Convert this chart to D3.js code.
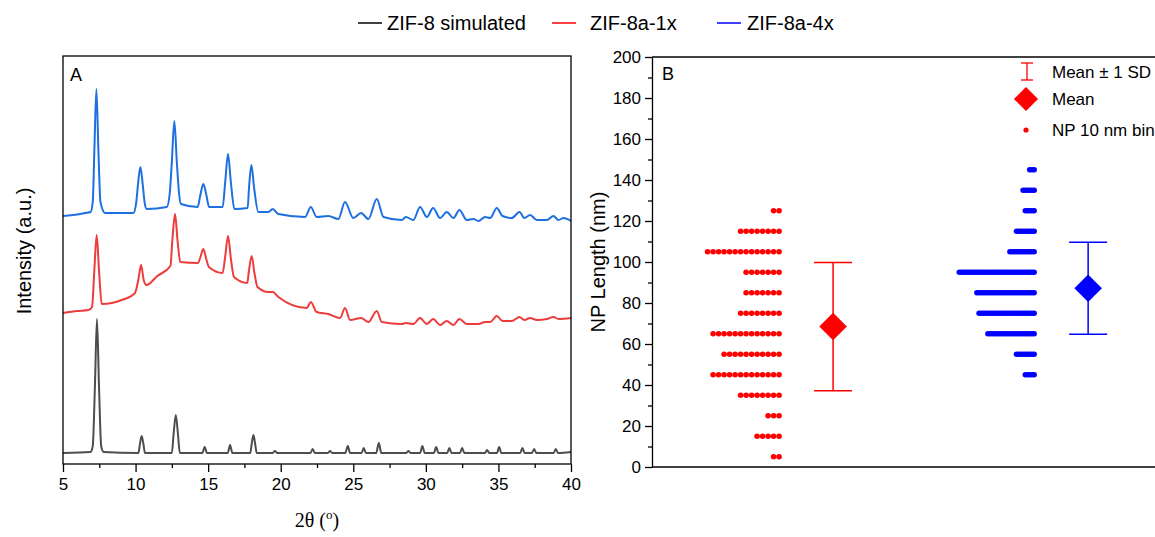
<!DOCTYPE html>
<html>
<head>
<meta charset="utf-8">
<script src="https://cdn.jsdelivr.net/npm/d3@7"></script>
<style>
  body { margin: 0; background: #fff; }
  text { font-family: "Liberation Sans", Arial, sans-serif; fill: #000; }
</style>
</head>
<body>
<div class="graphContainer"></div>
<script>
const w = 1155;
const h = 537;

// XRD patterns, [2theta, intensity a.u.] (curves already stacked)
const simPattern = [[5.0,11],[6.9,12],[7.05,18],[7.2,78],[7.34,145],[7.48,78],[7.63,18],[7.8,12],
  [10.2,11],[10.3,20],[10.42,28],[10.54,20],[10.65,11],
  [12.5,11],[12.62,30],[12.77,49],[12.92,30],[13.05,11],
  [14.6,11],[14.76,17],[14.92,11],[16.35,11],[16.51,19],[16.67,11],
  [17.9,11],[18.0,20],[18.12,29],[18.24,20],[18.35,11],
  [19.45,11],[19.6,13],[19.75,11],[22.05,11],[22.2,15],[22.35,11],
  [23.25,11],[23.4,13],[23.55,11],[24.45,11],[24.62,18],[24.78,11],
  [25.57,11],[25.72,16],[25.87,11],[26.58,11],[26.76,21],[26.93,11],
  [28.65,11],[28.8,13],[28.95,11],[29.6,11],[29.76,18],[29.92,11],
  [30.55,11],[30.71,17],[30.87,11],[31.47,11],[31.62,16],[31.77,11],
  [32.35,11],[32.5,16],[32.65,11],[34.07,11],[34.22,14],[34.37,11],
  [34.9,11],[35.05,17],[35.2,11],[36.5,11],[36.65,16],[36.8,11],
  [37.31,11],[37.46,15],[37.61,11],[38.8,11],[38.95,15],[39.1,11],[40,12]];

const pattern1x = [[5.0,151],[6.0,153],[6.75,154],[7.0,157],[7.16,194],[7.32,229],[7.48,194],[7.67,160],
  [9.05,164],[9.96,171],[10.2,185],[10.38,199],[10.56,184],[10.75,179],
  [11.5,188],[12.4,198],[12.54,225],[12.72,250],[12.9,222],[13.08,202],
  [14.3,201],[14.47,207],[14.67,215],[14.87,205],[15.05,197],
  [16.0,191],[16.17,207],[16.37,228],[16.57,205],[16.78,187],
  [17.7,181],[17.8,192],[18.0,208],[18.2,190],[18.4,177],
  [19.15,172],[19.45,172],[19.84,167],[21.8,156],[22.07,162],[22.48,152],[23.28,150],
  [24.09,146],[24.43,156],[24.78,144],[25.54,146],[26.04,142],[26.62,153],[26.96,142],
  [28.34,140],[28.62,141],[29.14,140],[29.6,146],[30.07,140],[30.5,145],[30.98,139],
  [31.44,143],[31.9,139],[32.31,145],[32.82,140],[33.62,140],[34.08,142],[34.43,142],
  [34.89,148],[35.28,143],[35.92,143],[36.45,147],[36.79,144],[37.18,146],[37.65,144],
  [38.34,145],[38.79,147],[39.14,145],[40,146]];

const pattern4x = [[5.0,248],[6.2,250],[6.5,251],[6.9,252],[7.05,262],[7.16,313],[7.3,375],[7.44,313],[7.58,262],[7.9,251],
  [9.85,251],[10.05,262],[10.17,280],[10.33,297],[10.49,280],[10.62,262],[10.77,255],
  [12.15,257],[12.35,270],[12.49,300],[12.67,343],[12.85,300],[13.0,270],[13.13,260],
  [14.28,257],[14.45,268],[14.67,280],[14.89,268],[15.06,257],
  [16.0,257],[16.17,281],[16.37,310],[16.57,281],[16.81,255],
  [17.72,256],[17.82,277],[17.98,299],[18.16,277],[18.46,252],
  [19.15,252],[19.45,255],[19.84,250],[21.68,247],[22.07,257],[22.48,247],[23.28,248],
  [23.97,245],[24.43,262],[25.0,246],[25.54,251],[26.04,245],[26.62,265],[27.08,247],
  [28.34,244],[28.62,247],[29.14,244],[29.6,257],[30.07,247],[30.5,256],[30.98,246],
  [31.44,252],[31.9,246],[32.31,254],[32.82,244],[33.28,245],[33.62,243],[34.08,247],
  [34.43,246],[34.89,256],[35.28,248],[35.92,246],[36.45,252],[36.79,246],[37.18,249],
  [37.65,244],[38.34,244],[38.79,248],[39.14,244],[39.48,246],[40,243]];

const xTicksA = [5, 10, 15, 20, 25, 30, 35, 40];
const xMinorA = [7.5, 12.5, 17.5, 22.5, 27.5, 32.5, 37.5];

// panel B: 10 nm bins and particle counts
const binCenters = [5, 15, 25, 35, 45, 55, 65, 75, 85, 95, 105, 115, 125, 135, 145];
const counts1x = [2, 5, 3, 8, 13, 11, 13, 8, 7, 7, 14, 8, 2, 0, 0];
const counts4x = [0, 0, 0, 0, 5, 9, 22, 26, 27, 35, 12, 9, 5, 6, 3];
const means = [68.5, 87.2];
const sds = [31.3, 22.4];
const yTicksB = [0, 20, 40, 60, 80, 100, 120, 140, 160, 180, 200];
const yMinorB = [10, 30, 50, 70, 90, 110, 130, 150, 170, 190];

const legendA = ["ZIF-8 simulated", "ZIF-8a-1x", "ZIF-8a-4x"];

//create svg
const svg = d3.select(".graphContainer").append("svg")
        .attr("width", w)
        .attr("height", h)

// ---------- Panel A ----------
const xA = d3.scaleLinear().domain([5, 40]).range([63, 571]);
const yA = d3.scaleLinear().domain([0, 408]).range([464, 56]);

const line = d3.line()
        .x(d => xA(d[0]))
        .y(d => yA(d[1]))
        .curve(d3.curveMonotoneX);

const curves = [
  {data: simPattern, color: "#4d4d4d"},
  {data: pattern1x, color: "#ee3b3b"},
  {data: pattern4x, color: "#1e6fe0"}
];

svg.append("g").selectAll("path")
        .data(curves)
        .enter()
        .append("path")
        .attr("d", d => line(d.data))
        .attr("fill", "none")
        .attr("stroke", d => d.color)
        .attr("stroke-width", 2)
        .attr("stroke-linejoin", "round")

// frame
svg.append("rect")
        .attr("x", 63).attr("y", 56)
        .attr("width", 508).attr("height", 408)
        .attr("fill", "none")
        .attr("stroke", "#000")
        .attr("stroke-width", 1.3)

const axA = svg.append("g")
        .attr("transform", "translate(0,464)")
        .call(d3.axisBottom(xA).tickValues(xTicksA).tickSize(8).tickPadding(6).tickSizeOuter(0))
axA.select(".domain").remove();
axA.selectAll("text").style("font-size", "17px").style("font-family", "Liberation Sans, Arial, sans-serif");
axA.selectAll("line").attr("stroke-width", 1.3);

svg.append("g")
        .attr("transform", "translate(0,464)")
        .call(d3.axisBottom(xA).tickValues(xMinorA).tickSize(4).tickFormat(""))
        .call(g => g.select(".domain").remove())
        .selectAll("line").attr("stroke-width", 1.3)

svg.append("text").attr("x", 70).attr("y", 81)
        .style("font-size", "18px").text("A")

const xLab = svg.append("text")
        .attr("x", 317).attr("y", 527)
        .attr("text-anchor", "middle")
        .style("font-family", "Liberation Serif, Times New Roman, serif")
        .style("font-size", "20px")
xLab.append("tspan").text("2θ (");
xLab.append("tspan").attr("dy", -8).style("font-size", "13px").text("o");
xLab.append("tspan").attr("dy", 8).text(")");

svg.append("text")
        .attr("transform", "translate(31,251) rotate(-90)")
        .attr("text-anchor", "middle")
        .style("font-size", "20px")
        .text("Intensity (a.u.)")

// top legend
const legColors = ["#000", "#ff0000", "#0000ff"];
const legX = [358, 552, 717];
const legTextX = [387, 590, 747];
legendA.forEach((name, i) => {
  svg.append("line")
        .attr("x1", legX[i]).attr("x2", legX[i] + 24)
        .attr("y1", 23).attr("y2", 23)
        .attr("stroke", legColors[i]).attr("stroke-width", 1.5)
  svg.append("text")
        .attr("x", legTextX[i]).attr("y", 30)
        .style("font-size", "20px")
        .text(name)
});

// ---------- Panel B ----------
const xB = d3.scaleLinear().domain([0.29, 2.27]).range([652, 1157]);
const yB = d3.scaleLinear().domain([0, 200]).range([467, 57]);

// top and bottom frame lines, left axis
svg.append("line").attr("x1", 652).attr("x2", 1155).attr("y1", 57).attr("y2", 57)
        .attr("stroke", "#000").attr("stroke-width", 1.3)
svg.append("line").attr("x1", 652).attr("x2", 1155).attr("y1", 467).attr("y2", 467)
        .attr("stroke", "#000").attr("stroke-width", 1.3)

const ayB = svg.append("g")
        .attr("transform", "translate(652,0)")
        .call(d3.axisLeft(yB).tickValues(yTicksB).tickSize(7).tickPadding(4).tickSizeOuter(0))
ayB.select(".domain").attr("stroke-width", 1.3);
ayB.selectAll("text").style("font-size", "17px").style("font-family", "Liberation Sans, Arial, sans-serif");
ayB.selectAll("line").attr("stroke-width", 1.3);

svg.append("g")
        .attr("transform", "translate(652,0)")
        .call(d3.axisLeft(yB).tickValues(yMinorB).tickSize(4).tickFormat(""))
        .call(g => g.select(".domain").remove())
        .selectAll("line").attr("stroke-width", 1.3)

svg.append("text").attr("x", 662).attr("y", 80)
        .style("font-size", "18px").text("B")

svg.append("text")
        .attr("transform", "translate(605,262) rotate(-90)")
        .attr("text-anchor", "middle")
        .style("font-size", "20px")
        .text("NP Length (nm)")

// bin dots, stacked leftwards from the right edge of each group
const groups = [
  {counts: counts1x, color: "#ff0000", cat: 1, step: 5.5},
  {counts: counts4x, color: "#0000ff", cat: 2, step: 2.2}
];
groups.forEach(g => {
  const dots = [];
  g.counts.forEach((c, i) => {
    for (let k = 0; k < c; k++) dots.push({v: binCenters[i], k: k});
  });
  svg.append("g").selectAll("circle")
        .data(dots)
        .enter()
        .append("circle")
        .attr("cx", d => xB(g.cat) - 54 - d.k * g.step)
        .attr("cy", d => yB(d.v))
        .attr("r", 2.8)
        .attr("fill", g.color)
});

// mean +- SD error bars and mean diamonds
const diamond = d3.symbol().type(d3.symbolSquare).size(380);
groups.forEach((g, i) => {
  const cx = xB(g.cat);
  const eb = svg.append("g").attr("stroke", g.color).attr("stroke-width", 1.5);
  eb.append("line").attr("x1", cx).attr("x2", cx)
        .attr("y1", yB(means[i] + sds[i])).attr("y2", yB(means[i] - sds[i]));
  [means[i] + sds[i], means[i] - sds[i]].forEach(v => {
    eb.append("line").attr("x1", cx - 19).attr("x2", cx + 19)
        .attr("y1", yB(v)).attr("y2", yB(v));
  });
  svg.append("path")
        .attr("d", diamond())
        .attr("transform", `translate(${cx},${yB(means[i])}) rotate(45)`)
        .attr("fill", g.color)
});

// panel B legend
const lg = svg.append("g");
lg.append("line").attr("x1", 1027).attr("x2", 1027).attr("y1", 63).attr("y2", 80)
        .attr("stroke", "#ff0000").attr("stroke-width", 1.3);
lg.append("line").attr("x1", 1021).attr("x2", 1033).attr("y1", 63).attr("y2", 63)
        .attr("stroke", "#ff0000").attr("stroke-width", 1.3);
lg.append("line").attr("x1", 1021).attr("x2", 1033).attr("y1", 80).attr("y2", 80)
        .attr("stroke", "#ff0000").attr("stroke-width", 1.3);
lg.append("path").attr("d", d3.symbol().type(d3.symbolSquare).size(290)())
        .attr("transform", "translate(1026,99) rotate(45)")
        .attr("fill", "#ff0000");
lg.append("circle").attr("cx", 1026).attr("cy", 130).attr("r", 2.6).attr("fill", "#ff0000");
[["Mean ± 1 SD", 72], ["Mean", 99], ["NP 10 nm bin", 130]].forEach(t => {
  lg.append("text").attr("x", 1052).attr("y", t[1] + 6)
        .style("font-size", "17px").text(t[0]);
});
</script>
</body>
</html>
